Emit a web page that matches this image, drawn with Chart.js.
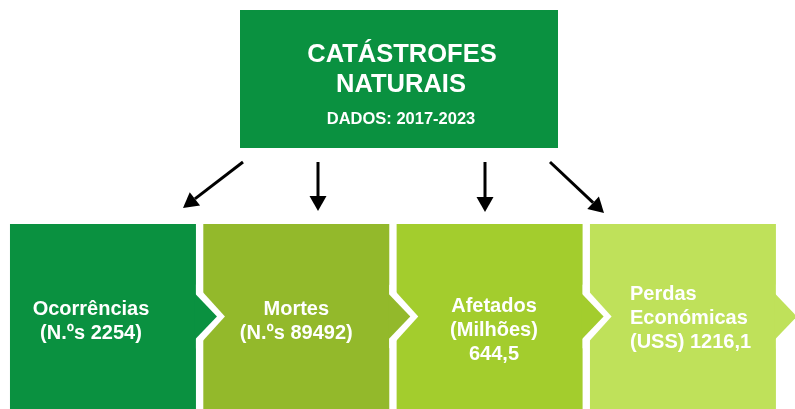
<!DOCTYPE html>
<html>
<head>
<meta charset="utf-8">
<script src="https://cdn.jsdelivr.net/npm/chart.js@4.4.1/dist/chart.umd.min.js"></script>
<style>
 html, body { margin: 0; padding: 0; background: #fff; }
 #wrap { width: 795px; height: 409px; }
</style>
</head>
<body>
<div id="wrap"><canvas id="flow-chart"></canvas></div>
<script>
// Chart content
const titleLines = ["CATÁSTROFES", "NATURAIS"];
const subtitle = "DADOS: 2017-2023";
const categories = ["Ocorrências", "Mortes", "Afetados", "Perdas Económicas"];
const units = ["N.ºs", "N.ºs", "Milhões", "USS"];
const values = [2254, 89492, 644.5, 1216.1];
const blockLevels = [1, 1, 1, 1];
const blockColors = ["#0a9140", "#93b92b", "#a3cd2d", "#bfe15a"];

const fmt = (v) => String(v).replace(".", ",");

// text lines for each block, as laid out in the original
const blockText = [
 [categories[0], "(" + units[0] + " " + fmt(values[0]) + ")"],
 [categories[1], "(" + units[1] + " " + fmt(values[1]) + ")"],
 [categories[2], "(" + units[2] + ")", fmt(values[2])],
 ["Perdas", "Económicas", "(" + units[3] + ") " + fmt(values[3])],
];

const FONT = "'Liberation Sans', Arial, sans-serif";

// Header box, arrows, chevrons and labels
const diagramPlugin = {
 id: "diagram",
 afterDatasetsDraw(chart) {
  const ctx = chart.ctx;
  const bars = chart.getDatasetMeta(0).data;

  // chevron tips between blocks
  bars.forEach((bar, i) => {
   const right = bar.x + bar.width / 2;
   const cy = (bar.y + bar.base) / 2;
   const h = 23, len = 21;
   ctx.save();
   ctx.fillStyle = "#ffffff";
   ctx.beginPath();
   ctx.moveTo(right, cy - h - 9);
   ctx.lineTo(right + len + 8, cy);
   ctx.lineTo(right, cy + h + 9);
   ctx.closePath();
   ctx.fill();
   ctx.fillStyle = blockColors[i];
   ctx.beginPath();
   ctx.moveTo(right - 1, cy - h);
   ctx.lineTo(right + len, cy);
   ctx.lineTo(right - 1, cy + h);
   ctx.closePath();
   ctx.fill();
   ctx.restore();
  });

  // block labels
  const textX = [91, bars[1].x, 494, 630];
  const textAlign = ["center", "center", "center", "left"];
  const firstBaseline = [315, 315, 312, 300];
  ctx.save();
  ctx.fillStyle = "#ffffff";
  ctx.font = "bold 20px " + FONT;
  ctx.textBaseline = "alphabetic";
  blockText.forEach((lines, i) => {
   ctx.textAlign = textAlign[i];
   lines.forEach((line, j) => {
    ctx.fillText(line, textX[i], firstBaseline[i] + j * 24);
   });
  });
  ctx.restore();

  // header box
  ctx.save();
  ctx.fillStyle = blockColors[0];
  ctx.fillRect(240, 10, 318, 138);
  ctx.fillStyle = "#ffffff";
  ctx.textAlign = "center";
  ctx.font = "bold 25.5px " + FONT;
  ctx.fillText(titleLines[0], 402, 62);
  ctx.fillText(titleLines[1], 401, 92);
  ctx.font = "bold 16.5px " + FONT;
  ctx.fillText(subtitle, 401, 124);
  ctx.restore();

  // arrows from the header to the blocks
  const arrows = [
   [243, 162, 183, 208],
   [318, 162, 318, 211],
   [485, 162, 485, 212],
   [550, 162, 604, 213],
  ];
  ctx.save();
  ctx.strokeStyle = "#000000";
  ctx.fillStyle = "#000000";
  ctx.lineWidth = 3;
  arrows.forEach(([x1, y1, x2, y2]) => {
   const ang = Math.atan2(y2 - y1, x2 - x1);
   const headLen = 15, headW = 8.5;
   const bx = x2 - headLen * Math.cos(ang);
   const by = y2 - headLen * Math.sin(ang);
   ctx.beginPath();
   ctx.moveTo(x1, y1);
   ctx.lineTo(bx, by);
   ctx.stroke();
   ctx.beginPath();
   ctx.moveTo(x2, y2);
   ctx.lineTo(bx + headW * Math.sin(ang), by - headW * Math.cos(ang));
   ctx.lineTo(bx - headW * Math.sin(ang), by + headW * Math.cos(ang));
   ctx.closePath();
   ctx.fill();
  });
  ctx.restore();
 },
};

const data = {
 labels: categories,
 datasets: [
  {
   data: blockLevels,
   backgroundColor: blockColors,
   borderWidth: 0,
   barPercentage: 0.962,
   categoryPercentage: 1,
  },
 ],
};

const config = {
 type: "bar",
 data: data,
 options: {
  responsive: true,
  maintainAspectRatio: false,
  animation: false,
  layout: {
   padding: { left: 6.3, right: 15.4, top: 224, bottom: 0 },
  },
  plugins: {
   legend: { display: false },
   tooltip: { enabled: false },
  },
  scales: {
   x: { display: false },
   y: { display: false, min: 0, max: 1 },
  },
 },
 plugins: [diagramPlugin],
};

const flowChart = new Chart(document.getElementById("flow-chart"), config);
</script>
</body>
</html>
